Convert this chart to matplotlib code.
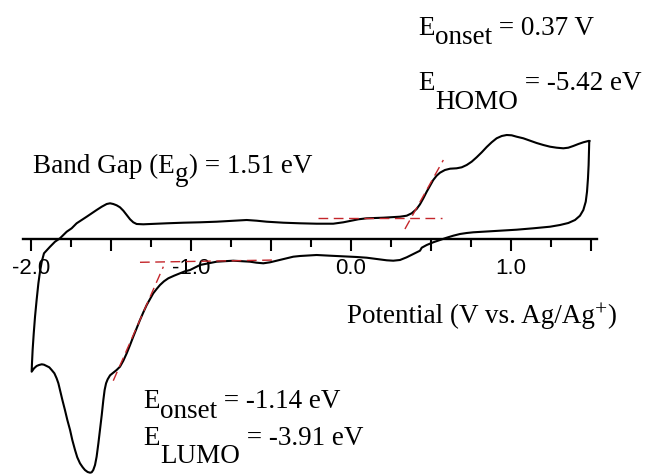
import numpy as np
import matplotlib
matplotlib.use("Agg")
import matplotlib.pyplot as plt
from matplotlib.ticker import FixedLocator, FixedFormatter

# ---- data: cyclic voltammogram (potential V vs Ag/Ag+, current arb. units) ----
potential = [
    1.491, 1.489, 1.487, 1.483, 1.477, 1.469, 1.454, 1.433, 1.402, 1.360, 1.308,
    1.246, 1.141, 1.037, 0.933, 0.829, 0.766, 0.725, 0.683, 0.641, 0.600, 0.558,
    0.516, 0.475, 0.444, 0.433, 0.391, 0.350, 0.308, 0.266, 0.225, 0.162, 0.100,
    0.037, -0.004, -0.067, -0.129, -0.213, -0.317, -0.359, -0.411, -0.463,
    -0.504, -0.546, -0.588, -0.629, -0.734, -0.838, -0.942, -1.004, -1.036,
    -1.067, -1.104, -1.140, -1.167, -1.192, -1.213, -1.234, -1.254, -1.275,
    -1.296, -1.317, -1.338, -1.359, -1.379, -1.400, -1.421, -1.442, -1.463,
    -1.484, -1.504, -1.519, -1.529, -1.538, -1.546, -1.556, -1.567, -1.577,
    -1.588, -1.598, -1.609, -1.619, -1.629, -1.644, -1.661, -1.675, -1.692,
    -1.709, -1.723, -1.740, -1.754, -1.771, -1.786, -1.802, -1.817, -1.827,
    -1.838, -1.852, -1.869, -1.884, -1.900, -1.917, -1.931, -1.948, -1.963,
    -1.979, -1.994,
    -1.992, -1.988, -1.981, -1.973, -1.963, -1.952, -1.942, -1.931, -1.917,
    -1.879, -1.848, -1.817, -1.775, -1.744, -1.713, -1.681, -1.650, -1.619,
    -1.588, -1.556, -1.525, -1.504, -1.484, -1.463, -1.442, -1.421, -1.400,
    -1.379, -1.359, -1.338, -1.296, -1.254, -1.150, -1.046, -0.942, -0.838,
    -0.734, -0.650, -0.588, -0.525, -0.421, -0.317, -0.213, -0.109, -0.046,
    -0.004, 0.048, 0.100, 0.204, 0.308, 0.350, 0.381, 0.412, 0.433, 0.454,
    0.475, 0.496, 0.516, 0.537, 0.558, 0.589, 0.621, 0.662, 0.694, 0.725,
    0.756, 0.787, 0.819, 0.850, 0.881, 0.912, 0.944, 0.975, 1.006, 1.037,
    1.079, 1.121, 1.162, 1.204, 1.246, 1.287, 1.329, 1.360, 1.391, 1.423,
    1.454, 1.485, 1.491,
]
current = [
    9.75, 8.68, 7.35, 6.02, 4.68, 3.68, 2.85, 2.28, 1.85, 1.55, 1.35,
    1.18, 1.02, 0.88, 0.78, 0.68, 0.62, 0.55, 0.45, 0.28, 0.08, -0.15,
    -0.38, -0.65, -0.92, -1.22, -1.55, -1.88, -2.15, -2.22, -2.18, -2.05, -1.92,
    -1.85, -1.82, -1.78, -1.72, -1.65, -1.75, -1.82, -2.02, -2.22,
    -2.38, -2.48, -2.42, -2.32, -2.22, -2.32, -2.65, -3.15, -3.28,
    -3.48, -3.72, -3.98, -4.28, -4.65, -5.05, -5.48, -6.05, -6.65,
    -7.38, -8.15, -8.98, -9.82, -10.65, -11.48, -12.22, -12.82, -13.15,
    -13.42, -13.68, -14.08, -14.48, -15.15, -16.15, -17.65, -19.15, -20.48,
    -21.82, -22.65, -23.15, -23.38, -23.42, -23.35, -23.15, -22.88, -22.48,
    -21.88, -21.15, -20.15, -19.15, -18.15, -17.15, -16.15, -15.15, -14.48,
    -13.98, -13.48, -13.15, -12.88, -12.75, -12.62, -12.58, -12.65, -12.75,
    -12.98, -13.32,
    -12.48, -11.15, -9.48, -7.82, -6.15, -4.48, -3.32, -2.32, -1.48,
    -0.82, -0.32, 0.02, 0.68, 1.02, 1.52, 1.85, 2.18, 2.52,
    2.85, 3.18, 3.45, 3.52, 3.45, 3.32, 3.12, 2.78, 2.35,
    1.92, 1.62, 1.45, 1.42, 1.45, 1.52, 1.58, 1.62, 1.68,
    1.78, 1.85, 1.78, 1.68, 1.58, 1.52, 1.48, 1.48, 1.62,
    1.75, 1.92, 2.02, 2.08, 2.18, 2.28, 2.52, 2.95, 3.42, 4.02,
    4.68, 5.28, 5.85, 6.28, 6.58, 6.85, 6.98, 7.02, 7.12, 7.35,
    7.68, 8.12, 8.62, 9.15, 9.62, 10.02, 10.25, 10.35, 10.32, 10.18,
    10.02, 9.78, 9.55, 9.35, 9.18, 9.08, 9.02, 9.08, 9.25, 9.45,
    9.62, 9.75, 9.75,
]

# onset tangent lines (oxidation and reduction)
ox_base_v = [-0.2025, 0.569]
ox_base_i = [2.07, 2.07]
ox_slope_v = [0.339, 0.579]
ox_slope_i = [0.95, 7.85]
red_base_v = [-1.317, -0.4625]
red_base_i = [-2.38, -2.15]
red_slope_v = [-1.484, -1.171]
red_slope_i = [-14.22, -2.82]

major_ticks = [-2.0, -1.5, -1.0, -0.5, 0.0, 0.5, 1.0, 1.5]
major_labels = ["-2.0", "", "-1.0", "", "0.0", "", "1.0", ""]
minor_ticks = [-1.75, -1.25, -0.75, -0.25, 0.25, 0.75, 1.25]

W, H = 645, 474
fig = plt.figure(figsize=(W / 100, H / 100), dpi=100)
ax = fig.add_axes([0, 0, 1, 1])
ax.set_xlim(-2.1919, 1.8394)
ax.set_ylim(-23.55, 23.85)
ax.patch.set_alpha(0)

ax.plot(potential, current, color="black", lw=1.5, solid_joinstyle="round",
        antialiased=True, zorder=2)

red = "#c4262b"
for xs, ys in [(ox_base_v, ox_base_i), (ox_slope_v, ox_slope_i),
               (red_base_v, red_base_i), (red_slope_v, red_slope_i)]:
    ax.plot(xs, ys, color=red, lw=1.0, dashes=(7, 4), zorder=3)

for s in ["left", "right", "top"]:
    ax.spines[s].set_visible(False)
ax.spines["bottom"].set_position(("data", 0))
ax.spines["bottom"].set_bounds(-2.046, 1.537)
ax.spines["bottom"].set_linewidth(1.7)
ax.yaxis.set_visible(False)
ax.xaxis.set_major_locator(FixedLocator(major_ticks))
ax.xaxis.set_major_formatter(FixedFormatter(major_labels))
ax.xaxis.set_minor_locator(FixedLocator(minor_ticks))
ax.tick_params(axis="x", which="major", direction="out", length=8.4, width=1.5, pad=5.5,
               labelsize=16)
ax.tick_params(axis="x", which="minor", direction="out", length=6, width=1.5)
for lab in ax.get_xticklabels():
    lab.set_family("Liberation Sans")

renderer = fig.canvas.get_renderer()
SERIF = "Liberation Serif"
FS = 19.5


def rich(x_px, base_px, parts):
    x = x_px
    for s, dy, size in parts:
        t = fig.text(x / W, 1 - (base_px + dy) / H, s, fontsize=size, family=SERIF,
                     ha="left", va="baseline")
        bb = t.get_window_extent(renderer)
        x = bb.x1


rich(418.3, 35, [("E", 0, FS), ("onset", 8.5, FS), (" = 0.37 V", 0, FS)])
rich(418.3, 90, [("E", 0, FS), ("HOMO", 19, FS), (" = -5.42 eV", 0, FS)])
rich(33.3, 173, [("Band Gap (E", 0, FS), ("g", 8, FS), (") = 1.51 eV", 0, FS)])
rich(143.3, 408.3, [("E", 0, FS), ("onset", 10, FS), (" = -1.14 eV", 0, FS)])
rich(143.3, 445, [("E", 0, FS), ("LUMO", 18, FS), (" = -3.91 eV", 0, FS)])
rich(346.7, 322.7, [("Potential (V vs. Ag/Ag", 0, FS), ("+", -7, 15.5), (")", 0, FS)])

fig.savefig("out.png", dpi=100)
